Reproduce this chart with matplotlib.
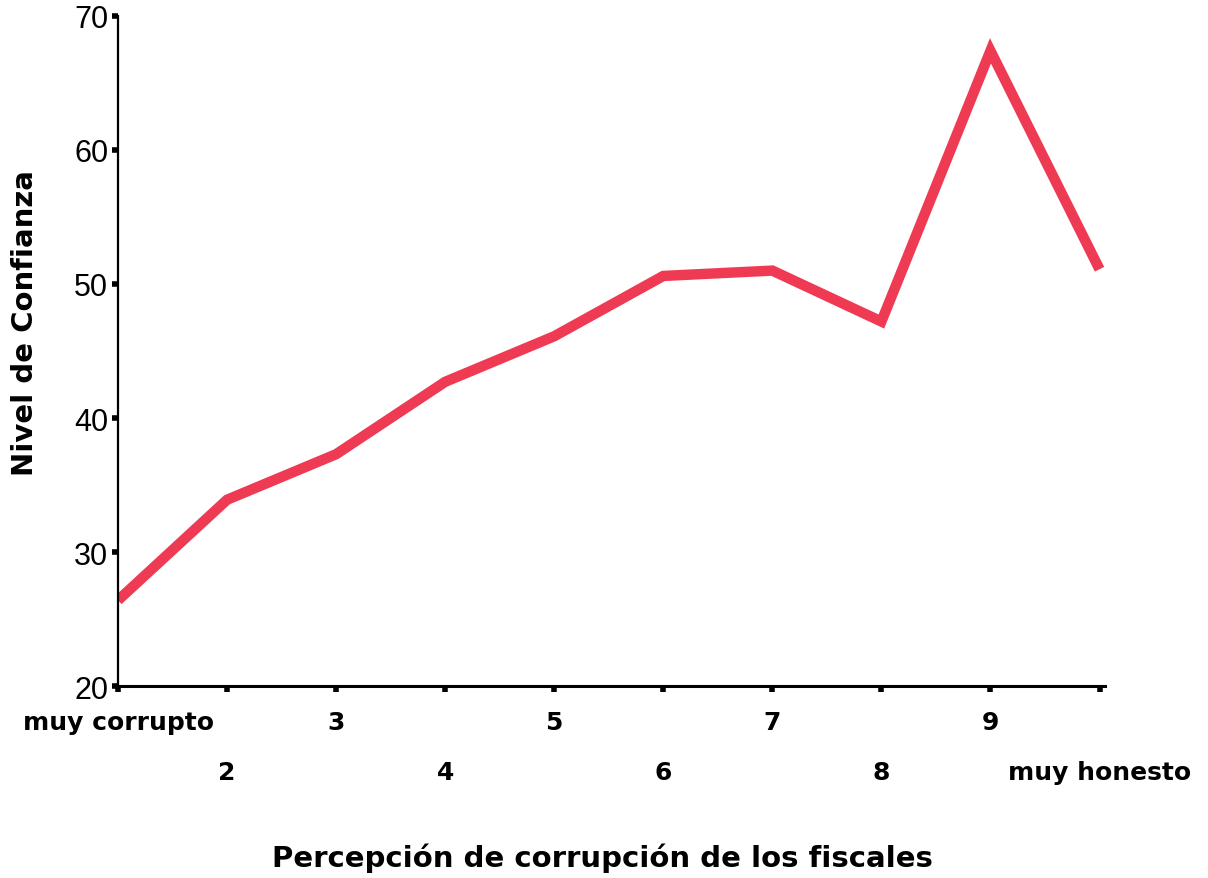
import matplotlib
matplotlib.use("Agg")
import matplotlib.pyplot as plt

# Nivel de confianza por percepcion de corrupcion de los fiscales
categories = [1, 2, 3, 4, 5, 6, 7, 8, 9, 10]
cat_labels = ["muy corrupto", "2", "3", "4", "5", "6", "7", "8", "9", "muy honesto"]
confianza = [26.4, 33.9, 37.3, 42.7, 46.1, 50.6, 51.0, 47.2, 67.4, 51.1]
y_ticks = [20, 30, 40, 50, 60, 70]

fig = plt.figure(figsize=(12.08, 8.79), dpi=100)
ax = fig.add_axes([0.0977, 0.2184, 0.817, 0.7623])

ax.plot(categories, confianza, color="#EF3A54", linewidth=7.5,
        solid_joinstyle="miter", solid_capstyle="butt")

ax.set_xlim(1, 10.05)
ax.set_ylim(20, 70)

for side in ["top", "right"]:
    ax.spines[side].set_visible(False)
ax.spines["left"].set_linewidth(1.6)
ax.spines["bottom"].set_linewidth(2.2)

ax.set_yticks(y_ticks)
ax.set_yticklabels([str(v) for v in y_ticks], fontsize=22,
                   family="Liberation Sans")
ax.tick_params(axis="y", direction="out", length=4, width=4, pad=3)

ax.set_xticks(categories)
ax.set_xticklabels(cat_labels, fontsize=18, fontweight="bold")
ax.tick_params(axis="x", direction="out", length=4, width=4)
for i, tick in enumerate(ax.xaxis.get_major_ticks()):
    tick.set_pad(13 if i % 2 == 0 else 49)

fig.text(0.021, 0.633, "Nivel de Confianza", fontsize=21, fontweight="bold",
         rotation=90, ha="center", va="center")
fig.text(0.499, 0.024, "Percepción de corrupción de los fiscales",
         fontsize=21, fontweight="bold", ha="center", va="center")

fig.savefig("out.png", dpi=100)
